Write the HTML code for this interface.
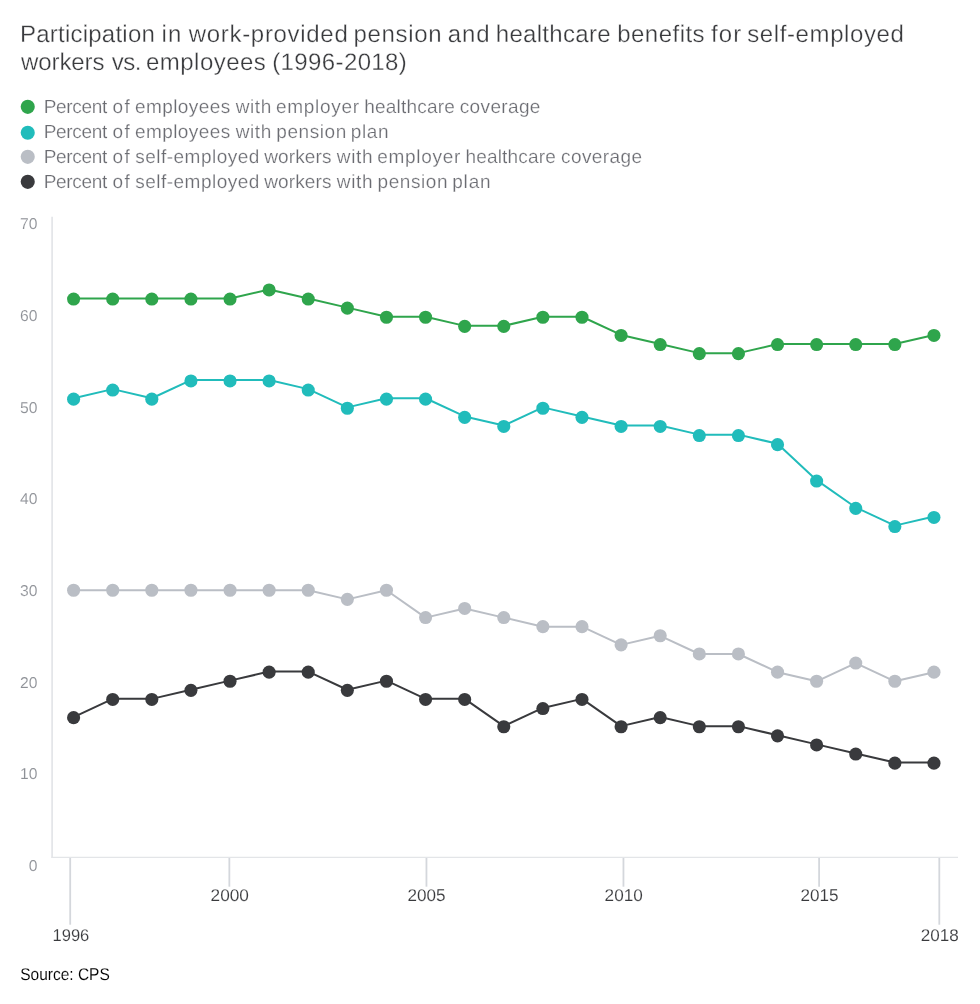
<!DOCTYPE html>
<html lang="en"><head><meta charset="utf-8">
<title>Participation in work-provided pension and healthcare benefits</title>
<style>
html,body{margin:0;padding:0;background:#fff;}
body{width:980px;height:1004px;overflow:hidden;}
svg{display:block;}
text{font-family:"Liberation Sans", sans-serif;text-rendering:geometricPrecision;}
.title{font-size:24px;fill:#393a3d;stroke:#fff;stroke-width:0.3px;}
.leg{font-size:19px;fill:#6b6c72;stroke:#fff;stroke-width:0.22px;}
.yl{font-size:15.7px;fill:#8d9096;text-anchor:end;stroke:#fff;stroke-width:0.12px;}
.xl{font-size:17px;fill:#393a3d;text-anchor:middle;stroke:#fff;stroke-width:0.12px;}
.src{font-size:17px;fill:#000;stroke:#fff;stroke-width:0.1px;}
</style></head><body>
<svg width="980" height="1004" viewBox="0 0 980 1004">
<rect width="980" height="1004" fill="#ffffff"/>
<text class="title" y="42.0"><tspan x="19.95" letter-spacing="0.233">Participation</tspan> <tspan x="161.50" letter-spacing="1.250">in</tspan> <tspan x="188.75" letter-spacing="0.688">work-provided</tspan> <tspan x="353.50" letter-spacing="0.667">pension</tspan> <tspan x="447.75" letter-spacing="0.875">and</tspan> <tspan x="495.75" letter-spacing="0.306">healthcare</tspan> <tspan x="617.25" letter-spacing="0.464">benefits</tspan> <tspan x="711.00" letter-spacing="1.125">for</tspan> <tspan x="747.25" letter-spacing="0.604">self-employed</tspan></text>
<text class="title" y="70.0"><tspan x="21.00" letter-spacing="-0.083">workers</tspan> <tspan x="111.75" letter-spacing="-0.500">vs.</tspan> <tspan x="146.00" letter-spacing="0.469">employees</tspan> <tspan x="272.25" letter-spacing="0.380">(1996-2018)</tspan></text>
<circle cx="27.75" cy="106.85" r="7.05" fill="#2fa54c"/>
<text class="leg" y="113.0"><tspan x="43.70" letter-spacing="-0.325">Percent</tspan> <tspan x="112.50" letter-spacing="1.500">of</tspan> <tspan x="135.00" letter-spacing="0.406">employees</tspan> <tspan x="235.75" letter-spacing="0.583">with</tspan> <tspan x="276.00" letter-spacing="0.714">employer</tspan> <tspan x="364.25" letter-spacing="0.194">healthcare</tspan> <tspan x="459.75" letter-spacing="0.357">coverage</tspan></text>
<circle cx="27.75" cy="132.70" r="7.05" fill="#21bcbb"/>
<text class="leg" y="138.0"><tspan x="43.70" letter-spacing="-0.325">Percent</tspan> <tspan x="112.50" letter-spacing="1.500">of</tspan> <tspan x="135.00" letter-spacing="0.406">employees</tspan> <tspan x="235.75" letter-spacing="0.583">with</tspan> <tspan x="276.25" letter-spacing="0.583">pension</tspan> <tspan x="350.75" letter-spacing="0.667">plan</tspan></text>
<circle cx="27.75" cy="156.85" r="7.05" fill="#babec5"/>
<text class="leg" y="163.0"><tspan x="43.70" letter-spacing="-0.325">Percent</tspan> <tspan x="112.50" letter-spacing="1.500">of</tspan> <tspan x="135.25" letter-spacing="0.479">self-employed</tspan> <tspan x="264.25" letter-spacing="0.125">workers</tspan> <tspan x="336.75" letter-spacing="0.667">with</tspan> <tspan x="377.25" letter-spacing="0.714">employer</tspan> <tspan x="465.50" letter-spacing="0.167">healthcare</tspan> <tspan x="561.00" letter-spacing="0.429">coverage</tspan></text>
<circle cx="27.75" cy="181.85" r="7.05" fill="#393a3d"/>
<text class="leg" y="188.0"><tspan x="43.70" letter-spacing="-0.325">Percent</tspan> <tspan x="112.50" letter-spacing="1.500">of</tspan> <tspan x="135.25" letter-spacing="0.479">self-employed</tspan> <tspan x="264.25" letter-spacing="0.125">workers</tspan> <tspan x="336.75" letter-spacing="0.667">with</tspan> <tspan x="377.50" letter-spacing="0.583">pension</tspan> <tspan x="452.25" letter-spacing="0.800">plan</tspan></text>
<g fill="none" stroke="#e3e5e8">
<line x1="52.1" y1="216.7" x2="52.1" y2="858.05" stroke-width="1.7"/>
<line x1="51.5" y1="857.45" x2="958" y2="857.45" stroke-width="1.2"/>
</g>
<g stroke="#d4d7dc" stroke-width="1.8">
<line x1="70.20" y1="857.95" x2="70.20" y2="924.7"/>
<line x1="229.35" y1="857.95" x2="229.35" y2="886.7"/>
<line x1="426.45" y1="857.95" x2="426.45" y2="886.7"/>
<line x1="623.45" y1="857.95" x2="623.45" y2="886.7"/>
<line x1="819.10" y1="857.95" x2="819.10" y2="886.7"/>
<line x1="939.30" y1="857.95" x2="939.30" y2="924.7"/>
</g>
<text class="xl" x="70.90" y="941.3" textLength="36.8" lengthAdjust="spacingAndGlyphs">1996</text>
<text class="xl" x="229.75" y="901.4" textLength="38.4" lengthAdjust="spacingAndGlyphs">2000</text>
<text class="xl" x="426.50" y="901.4" textLength="38.0" lengthAdjust="spacingAndGlyphs">2005</text>
<text class="xl" x="623.70" y="901.4" textLength="38.2" lengthAdjust="spacingAndGlyphs">2010</text>
<text class="xl" x="819.50" y="901.4" textLength="38.0" lengthAdjust="spacingAndGlyphs">2015</text>
<text class="xl" x="939.70" y="941.3" textLength="38.0" lengthAdjust="spacingAndGlyphs">2018</text>
<text class="yl" x="37.5" y="871.0">0</text>
<text class="yl" x="37.5" y="779.3">10</text>
<text class="yl" x="37.5" y="687.6">20</text>
<text class="yl" x="37.5" y="595.9">30</text>
<text class="yl" x="37.5" y="504.2">40</text>
<text class="yl" x="37.5" y="412.5">50</text>
<text class="yl" x="37.5" y="320.8">60</text>
<text class="yl" x="37.5" y="229.1">70</text>
<g fill="#2fa54c" stroke="none">
<path d="M73.60 298.55L112.71 298.55L151.81 298.55L190.92 298.55L230.03 298.55L269.13 289.45L308.24 298.55L347.35 307.65L386.46 316.75L425.56 316.75L464.67 325.85L503.78 325.85L542.88 316.75L581.99 316.75L621.10 334.95L660.21 344.05L699.31 353.15L738.42 353.15L777.53 344.05L816.63 344.05L855.74 344.05L894.85 344.05L933.95 334.95" fill="none" stroke="#2fa54c" stroke-width="2.00" stroke-linejoin="round"/>
<circle cx="73.60" cy="299.05" r="6.55"/>
<circle cx="112.71" cy="299.05" r="6.55"/>
<circle cx="151.81" cy="299.05" r="6.55"/>
<circle cx="190.92" cy="299.05" r="6.55"/>
<circle cx="230.03" cy="299.05" r="6.55"/>
<circle cx="269.13" cy="289.95" r="6.55"/>
<circle cx="308.24" cy="299.05" r="6.55"/>
<circle cx="347.35" cy="308.15" r="6.55"/>
<circle cx="386.46" cy="317.25" r="6.55"/>
<circle cx="425.56" cy="317.25" r="6.55"/>
<circle cx="464.67" cy="326.35" r="6.55"/>
<circle cx="503.78" cy="326.35" r="6.55"/>
<circle cx="542.88" cy="317.25" r="6.55"/>
<circle cx="581.99" cy="317.25" r="6.55"/>
<circle cx="621.10" cy="335.45" r="6.55"/>
<circle cx="660.21" cy="344.55" r="6.55"/>
<circle cx="699.31" cy="353.65" r="6.55"/>
<circle cx="738.42" cy="353.65" r="6.55"/>
<circle cx="777.53" cy="344.55" r="6.55"/>
<circle cx="816.63" cy="344.55" r="6.55"/>
<circle cx="855.74" cy="344.55" r="6.55"/>
<circle cx="894.85" cy="344.55" r="6.55"/>
<circle cx="933.95" cy="335.45" r="6.55"/>
</g>
<g fill="#21bcbb" stroke="none">
<path d="M73.60 398.25L112.71 389.15L151.81 398.25L190.92 380.05L230.03 380.05L269.13 380.05L308.24 389.15L347.35 407.35L386.46 398.25L425.56 398.25L464.67 416.45L503.78 425.55L542.88 407.35L581.99 416.45L621.10 425.55L660.21 425.55L699.31 434.65L738.42 434.65L777.53 443.75L816.63 480.15L855.74 507.45L894.85 525.65L933.95 516.55" fill="none" stroke="#21bcbb" stroke-width="2.00" stroke-linejoin="round"/>
<circle cx="73.60" cy="399.15" r="6.55"/>
<circle cx="112.71" cy="390.05" r="6.55"/>
<circle cx="151.81" cy="399.15" r="6.55"/>
<circle cx="190.92" cy="380.95" r="6.55"/>
<circle cx="230.03" cy="380.95" r="6.55"/>
<circle cx="269.13" cy="380.95" r="6.55"/>
<circle cx="308.24" cy="390.05" r="6.55"/>
<circle cx="347.35" cy="408.25" r="6.55"/>
<circle cx="386.46" cy="399.15" r="6.55"/>
<circle cx="425.56" cy="399.15" r="6.55"/>
<circle cx="464.67" cy="417.35" r="6.55"/>
<circle cx="503.78" cy="426.45" r="6.55"/>
<circle cx="542.88" cy="408.25" r="6.55"/>
<circle cx="581.99" cy="417.35" r="6.55"/>
<circle cx="621.10" cy="426.45" r="6.55"/>
<circle cx="660.21" cy="426.45" r="6.55"/>
<circle cx="699.31" cy="435.55" r="6.55"/>
<circle cx="738.42" cy="435.55" r="6.55"/>
<circle cx="777.53" cy="444.65" r="6.55"/>
<circle cx="816.63" cy="481.05" r="6.55"/>
<circle cx="855.74" cy="508.35" r="6.55"/>
<circle cx="894.85" cy="526.55" r="6.55"/>
<circle cx="933.95" cy="517.45" r="6.55"/>
</g>
<g fill="#babec5" stroke="none">
<path d="M73.60 590.30L112.71 590.30L151.81 590.30L190.92 590.30L230.03 590.30L269.13 590.30L308.24 590.30L347.35 599.40L386.46 590.30L425.56 617.60L464.67 608.50L503.78 617.60L542.88 626.70L581.99 626.70L621.10 644.90L660.21 635.80L699.31 654.00L738.42 654.00L777.53 672.20L816.63 681.30L855.74 663.10L894.85 681.30L933.95 672.20" fill="none" stroke="#babec5" stroke-width="2.00" stroke-linejoin="round"/>
<circle cx="73.60" cy="590.25" r="6.55"/>
<circle cx="112.71" cy="590.25" r="6.55"/>
<circle cx="151.81" cy="590.25" r="6.55"/>
<circle cx="190.92" cy="590.25" r="6.55"/>
<circle cx="230.03" cy="590.25" r="6.55"/>
<circle cx="269.13" cy="590.25" r="6.55"/>
<circle cx="308.24" cy="590.25" r="6.55"/>
<circle cx="347.35" cy="599.35" r="6.55"/>
<circle cx="386.46" cy="590.25" r="6.55"/>
<circle cx="425.56" cy="617.55" r="6.55"/>
<circle cx="464.67" cy="608.45" r="6.55"/>
<circle cx="503.78" cy="617.55" r="6.55"/>
<circle cx="542.88" cy="626.65" r="6.55"/>
<circle cx="581.99" cy="626.65" r="6.55"/>
<circle cx="621.10" cy="644.85" r="6.55"/>
<circle cx="660.21" cy="635.75" r="6.55"/>
<circle cx="699.31" cy="653.95" r="6.55"/>
<circle cx="738.42" cy="653.95" r="6.55"/>
<circle cx="777.53" cy="672.15" r="6.55"/>
<circle cx="816.63" cy="681.25" r="6.55"/>
<circle cx="855.74" cy="663.05" r="6.55"/>
<circle cx="894.85" cy="681.25" r="6.55"/>
<circle cx="933.95" cy="672.15" r="6.55"/>
</g>
<g fill="#393a3d" stroke="none">
<path d="M73.60 717.05L112.71 698.85L151.81 698.85L190.92 689.75L230.03 680.65L269.13 671.55L308.24 671.55L347.35 689.75L386.46 680.65L425.56 698.85L464.67 698.85L503.78 726.15L542.88 707.95L581.99 698.85L621.10 726.15L660.21 717.05L699.31 726.15L738.42 726.15L777.53 735.25L816.63 744.35L855.74 753.45L894.85 762.55L933.95 762.55" fill="none" stroke="#393a3d" stroke-width="2.00" stroke-linejoin="round"/>
<circle cx="73.60" cy="717.65" r="6.55"/>
<circle cx="112.71" cy="699.45" r="6.55"/>
<circle cx="151.81" cy="699.45" r="6.55"/>
<circle cx="190.92" cy="690.35" r="6.55"/>
<circle cx="230.03" cy="681.25" r="6.55"/>
<circle cx="269.13" cy="672.15" r="6.55"/>
<circle cx="308.24" cy="672.15" r="6.55"/>
<circle cx="347.35" cy="690.35" r="6.55"/>
<circle cx="386.46" cy="681.25" r="6.55"/>
<circle cx="425.56" cy="699.45" r="6.55"/>
<circle cx="464.67" cy="699.45" r="6.55"/>
<circle cx="503.78" cy="726.75" r="6.55"/>
<circle cx="542.88" cy="708.55" r="6.55"/>
<circle cx="581.99" cy="699.45" r="6.55"/>
<circle cx="621.10" cy="726.75" r="6.55"/>
<circle cx="660.21" cy="717.65" r="6.55"/>
<circle cx="699.31" cy="726.75" r="6.55"/>
<circle cx="738.42" cy="726.75" r="6.55"/>
<circle cx="777.53" cy="735.85" r="6.55"/>
<circle cx="816.63" cy="744.95" r="6.55"/>
<circle cx="855.74" cy="754.05" r="6.55"/>
<circle cx="894.85" cy="763.15" r="6.55"/>
<circle cx="933.95" cy="763.15" r="6.55"/>
</g>
<text class="src" x="20.2" y="980" textLength="89.6" lengthAdjust="spacingAndGlyphs">Source: CPS</text>
</svg>
</body></html>
